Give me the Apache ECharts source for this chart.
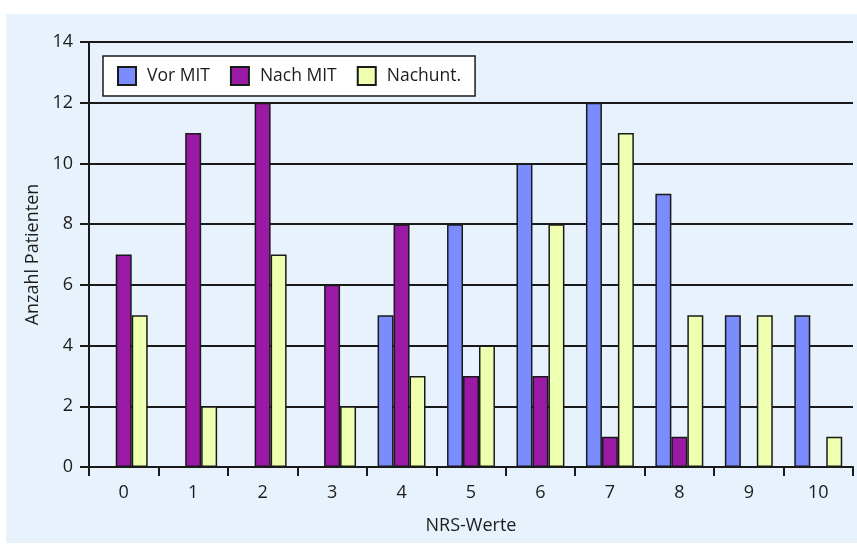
<!DOCTYPE html>
<html>
<head>
<meta charset="utf-8">
<script src="https://cdn.jsdelivr.net/npm/echarts@6/dist/echarts.min.js"></script>
<style>html,body{margin:0;padding:0;background:#fff;}#c{width:857px;height:545px;}</style>
</head>
<body>
<div id="c"></div>
<script>
var categories = ['0','1','2','3','4','5','6','7','8','9','10'];
var vorMIT   = [0,0,0,0,5,8,10,12,9,5,5];
var nachMIT  = [7,11,12,6,8,3,3,1,1,0,0];
var nachunt  = [5,2,7,2,3,4,8,11,5,5,1];
var seriesNames = ['Vor MIT','Nach MIT','Nachunt.'];
var yTicks = {min:0, max:14, interval:2};

var FONT = '"Open Sans", sans-serif';
var TXT = '#1c1c1c';
var chart = echarts.init(document.getElementById('c'), null, {renderer:'canvas'});
var border = {borderColor:'#1a1a1a', borderWidth:1.5};
chart.setOption({
  backgroundColor:'#ffffff',
  animation:false,
  graphic:[{type:'rect', z:-100, silent:true, shape:{x:6,y:14,width:851,height:529}, style:{fill:'#e8f2fc'}}],
  textStyle:{fontFamily:FONT},
  legend:{
    left:103, top:56, padding:[10,14,10,14],
    backgroundColor:'#ffffff', borderColor:'#1a1a1a', borderWidth:1.5,
    itemWidth:18, itemHeight:18, itemGap:20,
    textStyle:{fontFamily:FONT, fontSize:17.5, color:TXT, padding:[0,0,0,6]},
    data:seriesNames.map(function(n){return {name:n, icon:'rect'};})
  },
  grid:{left:89, top:42, width:764, height:425, containLabel:false},
  xAxis:{
    type:'category', data:categories,
    name:'NRS-Werte', nameLocation:'middle', nameGap:50,
    nameTextStyle:{fontFamily:FONT, fontSize:18, color:TXT},
    axisLine:{lineStyle:{color:'#1a1a1a', width:2}},
    axisTick:{show:true, length:9, lineStyle:{color:'#1a1a1a', width:2}},
    axisLabel:{fontFamily:FONT, fontSize:18, color:TXT, margin:17},
    splitLine:{show:false}
  },
  yAxis:{
    type:'value', min:yTicks.min, max:yTicks.max, interval:yTicks.interval,
    name:'Anzahl Patienten', nameLocation:'middle', nameGap:46, nameRotate:90,
    nameTextStyle:{fontFamily:FONT, fontSize:18, color:TXT},
    axisLine:{show:true, lineStyle:{color:'#1a1a1a', width:2}},
    axisTick:{show:true, length:9, lineStyle:{color:'#1a1a1a', width:2}},
    axisLabel:{fontFamily:FONT, fontSize:18, color:TXT, margin:16},
    splitLine:{show:true, lineStyle:{color:'#1a1a1a', width:2}}
  },
  series:[
    {name:seriesNames[0], type:'bar', data:vorMIT, barGap:'0%', barCategoryGap:'31%', itemStyle:Object.assign({color:'#7b8cff'},border)},
    {name:seriesNames[1], type:'bar', data:nachMIT, barGap:'0%', barCategoryGap:'31%', itemStyle:Object.assign({color:'#9a1aa6'},border)},
    {name:seriesNames[2], type:'bar', data:nachunt, barGap:'0%', barCategoryGap:'31%', itemStyle:Object.assign({color:'#efffb0'},border)}
  ]
});
</script>
</body>
</html>
